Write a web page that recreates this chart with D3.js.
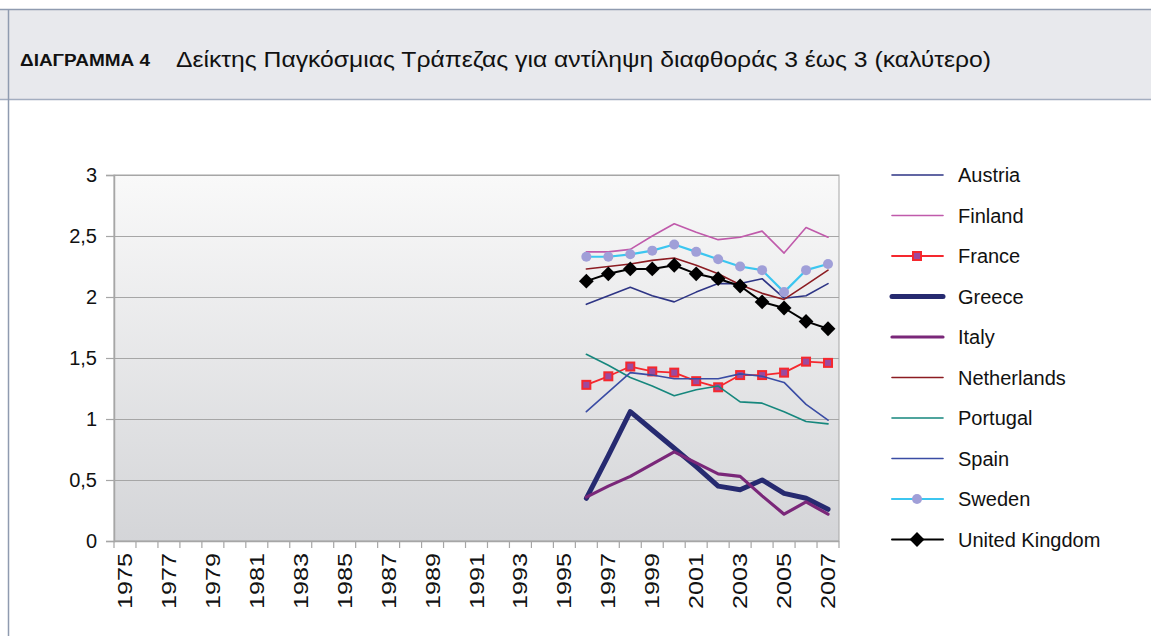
<!DOCTYPE html>
<html>
<head>
<meta charset="utf-8">
<script src="https://cdn.jsdelivr.net/npm/d3@7"></script>
<style>
  body { margin: 0; background: #fff; }
  svg { display: block; font-family: "Liberation Sans", Arial, sans-serif; }
</style>
</head>
<body>
<svg id="chart" width="1151" height="636"></svg>
<script>
// years on the category axis
var years = d3.range(1975, 2008);
var dataYears = [1996, 1997, 1998, 1999, 2000, 2001, 2002, 2003, 2004, 2005, 2006, 2007];
var yTicks = [0, 0.5, 1, 1.5, 2, 2.5, 3];

// values, 1996..2007
var austria     = [1.94, 2.01, 2.08, 2.01, 1.96, 2.04, 2.11, 2.11, 2.15, 1.99, 2.01, 2.11];
var finland     = [2.37, 2.37, 2.39, 2.50, 2.60, 2.53, 2.47, 2.49, 2.54, 2.36, 2.57, 2.49];
var france      = [1.28, 1.35, 1.43, 1.39, 1.38, 1.31, 1.26, 1.36, 1.36, 1.38, 1.47, 1.46];
var greece      = [0.35, 0.70, 1.06, 0.91, 0.76, 0.61, 0.45, 0.42, 0.50, 0.39, 0.35, 0.26];
var italy       = [0.36, 0.45, 0.53, 0.63, 0.73, 0.64, 0.55, 0.53, 0.37, 0.22, 0.32, 0.22];
var netherlands = [2.23, 2.25, 2.27, 2.30, 2.32, 2.26, 2.19, 2.10, 2.03, 1.98, 2.10, 2.22];
var portugal    = [1.53, 1.44, 1.34, 1.27, 1.19, 1.24, 1.27, 1.14, 1.13, 1.06, 0.98, 0.96];
var spain       = [1.06, 1.22, 1.38, 1.36, 1.33, 1.33, 1.33, 1.37, 1.35, 1.30, 1.12, 0.99];
var sweden      = [2.33, 2.33, 2.35, 2.38, 2.43, 2.37, 2.31, 2.25, 2.22, 2.04, 2.22, 2.27];
var uk          = [2.13, 2.19, 2.23, 2.23, 2.26, 2.19, 2.15, 2.09, 1.96, 1.91, 1.80, 1.74];

var series = [
  { name: 'Austria',        values: austria,     color: '#2e3585', width: 1.6 },
  { name: 'Finland',        values: finland,     color: '#c05aab', width: 1.6 },
  { name: 'France',         values: france,      color: '#f5282e', width: 1.8, marker: 'square' },
  { name: 'Greece',         values: greece,      color: '#262a70', width: 5 },
  { name: 'Italy',          values: italy,       color: '#7a2779', width: 3.2 },
  { name: 'Netherlands',    values: netherlands, color: '#8c1c22', width: 1.6 },
  { name: 'Portugal',       values: portugal,    color: '#16877d', width: 1.6 },
  { name: 'Spain',          values: spain,       color: '#3a4ca4', width: 1.6 },
  { name: 'Sweden',         values: sweden,      color: '#3cc6f0', width: 2.2, marker: 'circle' },
  { name: 'United Kingdom', values: uk,          color: '#000000', width: 2, marker: 'diamond' }
];

var svg = d3.select('#chart');
var plotLeft = 114, plotRight = 839, plotTop = 175, plotBottom = 541;

// header box
svg.append('rect').attr('x', 0).attr('y', 9).attr('width', 1151).attr('height', 90)
  .attr('fill', '#e8e9ed');
svg.append('line').attr('x1', 0).attr('x2', 1151).attr('y1', 9.5).attr('y2', 9.5)
  .attr('stroke', '#8f9bb0').attr('stroke-width', 1.5);
svg.append('line').attr('x1', 0).attr('x2', 1151).attr('y1', 99.5).attr('y2', 99.5)
  .attr('stroke', '#a3adc0').attr('stroke-width', 1.5);
svg.append('line').attr('x1', 8.5).attr('x2', 8.5).attr('y1', 9).attr('y2', 636)
  .attr('stroke', '#8f9bb0').attr('stroke-width', 1.5);

svg.append('text').attr('x', 20).attr('y', 66).attr('fill', '#111')
  .attr('font-weight', 'bold').attr('font-size', 16)
  .attr('textLength', 130).attr('lengthAdjust', 'spacingAndGlyphs')
  .text('ΔΙΑΓΡΑΜΜΑ 4');
svg.append('text').attr('x', 176).attr('y', 67).attr('fill', '#111').attr('font-size', 22.5)
  .attr('textLength', 815).attr('lengthAdjust', 'spacingAndGlyphs')
  .text('Δείκτης Παγκόσμιας Τράπεζας για αντίληψη διαφθοράς 3 έως 3 (καλύτερο)');

// scales
var x = d3.scaleBand().domain(years).range([plotLeft, plotRight]).padding(0);
var y = d3.scaleLinear().domain([0, 3]).range([plotBottom, plotTop]);

// plot background
var grad = svg.append('defs').append('linearGradient')
  .attr('id', 'bg').attr('x1', '0%').attr('x2', '0%').attr('y1', '0%').attr('y2', '100%');
grad.append('stop').attr('offset', '0%').style('stop-color', '#f9f9f9');
grad.append('stop').attr('offset', '100%').style('stop-color', '#d4d5d8');

svg.append('rect').attr('x', plotLeft).attr('y', plotTop)
  .attr('width', plotRight - plotLeft).attr('height', plotBottom - plotTop)
  .attr('fill', 'url(#bg)').attr('stroke', '#a6a6a6').attr('stroke-width', 1);

// gridlines
svg.append('g').selectAll('line').data(yTicks).enter().append('line')
  .attr('x1', plotLeft).attr('x2', plotRight)
  .attr('y1', function (d) { return Math.round(y(d)) + 0.5; })
  .attr('y2', function (d) { return Math.round(y(d)) + 0.5; })
  .attr('stroke', '#a6a6a6').attr('stroke-width', 1.2);

// y axis
var yAxis = svg.append('g').attr('transform', 'translate(' + plotLeft + ',0)')
  .call(d3.axisLeft(y).tickValues(yTicks).tickSize(8).tickPadding(9)
    .tickFormat(function (d) { return String(d).replace('.', ','); }));
yAxis.select('.domain').attr('stroke', '#a6a6a6').attr('stroke-width', 1.5);
yAxis.selectAll('.tick line').attr('stroke', '#a6a6a6').attr('stroke-width', 1.2);
yAxis.selectAll('text').attr('font-size', 20).attr('fill', '#111')
  .attr('font-family', 'Liberation Sans, Arial, sans-serif');

// x axis: ticks at band edges, labels every second year
var xAxis = svg.append('g').attr('transform', 'translate(0,' + plotBottom + ')');
xAxis.append('line').attr('x1', plotLeft).attr('x2', plotRight).attr('y1', 0.5).attr('y2', 0.5)
  .attr('stroke', '#a6a6a6').attr('stroke-width', 1.5);
xAxis.selectAll('.edge').data(years.concat([null])).enter().append('line')
  .attr('class', 'edge')
  .attr('x1', function (d, i) { return i < years.length ? x(d) : plotRight; })
  .attr('x2', function (d, i) { return i < years.length ? x(d) : plotRight; })
  .attr('y1', 0).attr('y2', 7)
  .attr('stroke', '#a6a6a6').attr('stroke-width', 1.2);
xAxis.selectAll('.lbl').data(years.filter(function (d) { return d % 2 === 1; })).enter()
  .append('text').attr('class', 'lbl')
  .attr('transform', function (d) {
    return 'translate(' + (x(d) + x.bandwidth() / 2 + 7) + ',12) rotate(-90)';
  })
  .attr('text-anchor', 'end').attr('font-size', 20).attr('fill', '#111')
  .attr('textLength', 56).attr('lengthAdjust', 'spacingAndGlyphs')
  .text(function (d) { return d; });

// lines
var line = d3.line()
  .x(function (d, i) { return x(dataYears[i]) + x.bandwidth() / 2; })
  .y(function (d) { return y(d); });

function drawMarker(g, type) {
  if (type === 'square') {
    g.append('rect').attr('x', -4).attr('y', -4).attr('width', 8).attr('height', 8)
      .attr('fill', '#9c4a9e').attr('stroke', '#f5282e').attr('stroke-width', 2);
  } else if (type === 'circle') {
    g.append('circle').attr('r', 5).attr('fill', '#a09fd8');
  } else if (type === 'diamond') {
    g.append('path').attr('d', d3.symbol().type(d3.symbolDiamond2).size(140)).attr('fill', '#000');
  }
}

series.forEach(function (s) {
  svg.append('path').datum(s.values)
    .attr('fill', 'none').attr('stroke', s.color).attr('stroke-width', s.width)
    .attr('stroke-linejoin', 'round').attr('stroke-linecap', 'round')
    .attr('d', line);
  if (s.marker) {
    s.values.forEach(function (v, i) {
      var g = svg.append('g').attr('transform',
        'translate(' + (x(dataYears[i]) + x.bandwidth() / 2) + ',' + y(v) + ')');
      drawMarker(g, s.marker);
    });
  }
});

// legend
var legend = svg.append('g').attr('transform', 'translate(892,175)');
series.forEach(function (s, i) {
  var g = legend.append('g').attr('transform', 'translate(0,' + (i * 40.5) + ')');
  g.append('line').attr('x1', 0).attr('x2', 51).attr('y1', 0).attr('y2', 0)
    .attr('stroke', s.color).attr('stroke-width', s.width).attr('stroke-linecap', 'round');
  if (s.marker) {
    var m = g.append('g').attr('transform', 'translate(25,0)');
    drawMarker(m, s.marker);
  }
  g.append('text').attr('x', 66).attr('y', 7).attr('font-size', 20).attr('fill', '#111')
    .text(s.name);
});
</script>
</body>
</html>
